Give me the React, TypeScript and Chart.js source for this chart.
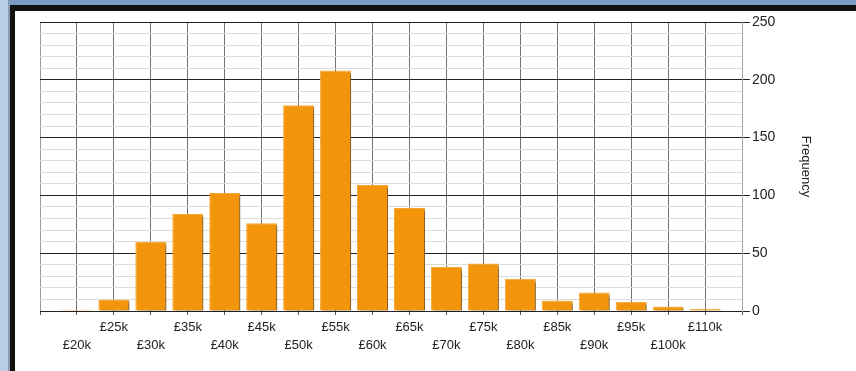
import React, { useEffect, useRef } from "react";
import { Chart, registerables } from "chart.js";

Chart.register(...registerables);

const categories = [
  "£20k", "£25k", "£30k", "£35k", "£40k", "£45k", "£50k", "£55k", "£60k",
  "£65k", "£70k", "£75k", "£80k", "£85k", "£90k", "£95k", "£100k", "£110k",
];
const frequency = [1, 10, 60, 84, 102, 76, 178, 208, 109, 89, 38, 41, 28, 9, 16, 8, 4, 2];
const yMajorTicks = [0, 50, 100, 150, 200, 250];
const yAxisTitle = "Frequency";

const FONT = "'Liberation Sans', Arial, sans-serif";

const shadowPlugin = {
  id: "barShadow",
  beforeDatasetDraw(chart: any) {
    const ctx = chart.ctx;
    ctx.save();
    ctx.shadowColor = "rgba(0,0,0,0.45)";
    ctx.shadowOffsetX = 3;
    ctx.shadowOffsetY = 2;
    ctx.shadowBlur = 2;
  },
  afterDatasetDraw(chart: any) {
    chart.ctx.restore();
  },
};

export default function App() {
  const ref = useRef<HTMLCanvasElement | null>(null);

  useEffect(() => {
    if (!ref.current) return;
    const points = frequency.map((v, i) => ({ x: i, y: v }));
    const chart = new Chart(ref.current, {
      type: "bar",
      data: {
        datasets: [
          {
            data: points as any,
            backgroundColor: "#F3950A",
            borderColor: "#F6A733",
            borderWidth: 1,
            categoryPercentage: 1,
            barPercentage: 0.84,
          },
        ],
      },
      plugins: [shadowPlugin],
      options: {
        responsive: false,
        animation: false,
        events: [],
        layout: { padding: { left: 25, top: 11, right: 0, bottom: 0 } },
        plugins: { legend: { display: false }, tooltip: { enabled: false } },
        scales: {
          x: {
            type: "linear",
            offset: false,
            min: -1,
            max: categories.length,
            afterFit: (s: any) => {
              s.height = 60;
            },
            grid: {
              offset: false,
              color: (c: any) => (c.tick && c.tick.value === -1 ? "#9a9a9a" : "#707070"),
              tickColor: "#555",
              tickLength: 4,
              lineWidth: 1,
            },
            border: { color: "#222", width: 1 },
            ticks: {
              stepSize: 1,
              autoSkip: false,
              maxRotation: 0,
              minRotation: 0,
              padding: 3,
              color: "#222",
              font: { family: FONT, size: 13, lineHeight: "18px" } as any,
              callback: (v: any) => {
                const i = Number(v);
                if (i < 0 || i >= categories.length) return "";
                return i % 2 === 1 ? [categories[i], ""] : ["", categories[i]];
              },
            },
          },
          y: {
            type: "linear",
            position: "right",
            min: 0,
            max: 250,
            afterFit: (s: any) => {
              s.width = 114;
            },
            grid: {
              color: (c: any) =>
                c.tick && yMajorTicks.includes(c.tick.value) ? "#222" : "#dcdcdc",
              tickColor: (c: any) =>
                c.tick && yMajorTicks.includes(c.tick.value) ? "#222" : "rgba(0,0,0,0)",
              tickLength: 8,
              lineWidth: 1,
            },
            border: { color: "#a8a8a8", width: 1 },
            ticks: {
              stepSize: 10,
              autoSkip: false,
              padding: 2,
              color: "#222",
              font: { family: FONT, size: 14 },
              callback: (v: any) => (yMajorTicks.includes(Number(v)) ? String(v) : ""),
            },
            title: {
              display: true,
              text: yAxisTitle,
              color: "#222",
              font: { family: FONT, size: 13 },
              padding: { top: 43, bottom: 0 },
            },
          },
        },
      },
    });
    return () => chart.destroy();
  }, []);

  return (
    <div
      style={{
        position: "fixed",
        left: 0,
        top: 0,
        width: 856,
        height: 371,
        background: "#fff",
        overflow: "hidden",
      }}
    >
      <div style={{ position: "absolute", left: 0, top: 0, width: 856, height: 5, background: "#7c9cc5" }} />
      <div style={{ position: "absolute", left: 10, top: 5, width: 846, height: 6, background: "#111" }} />
      <div style={{ position: "absolute", left: 0, top: 0, width: 8, height: 371, background: "#b9cfea" }} />
      <div style={{ position: "absolute", left: 8, top: 3, width: 2, height: 368, background: "#8a9db5" }} />
      <div style={{ position: "absolute", left: 10, top: 5, width: 5, height: 366, background: "#111" }} />
      <canvas
        ref={ref}
        width={841}
        height={360}
        style={{ position: "absolute", left: 15, top: 11, width: 841, height: 360 }}
      />
    </div>
  );
}
